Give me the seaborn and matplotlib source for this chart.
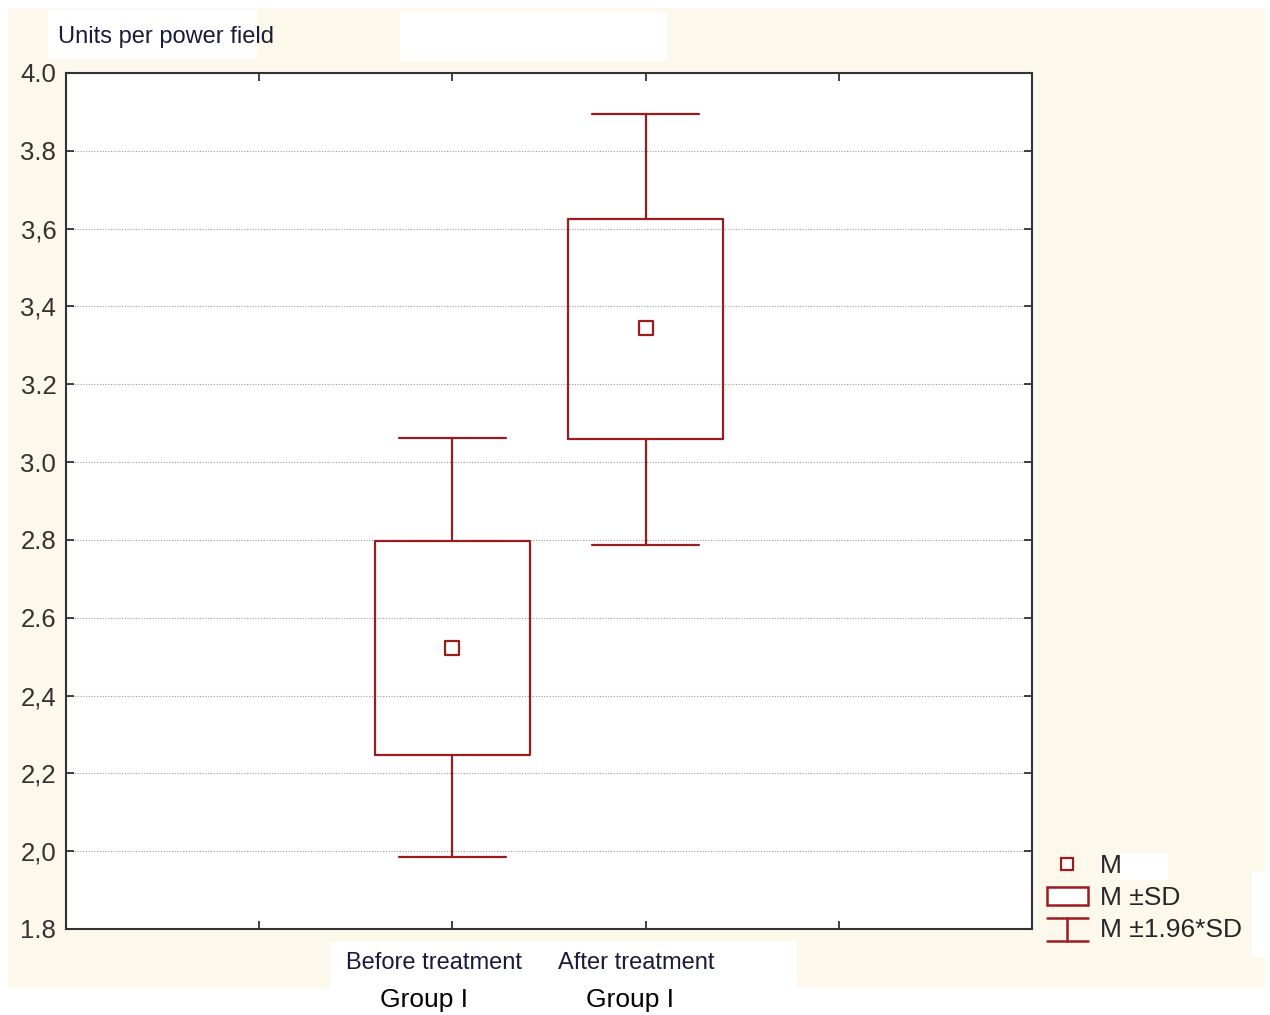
import matplotlib.patches as patches
import matplotlib.pyplot as plt
from matplotlib.legend_handler import HandlerBase
from matplotlib.lines import Line2D
import seaborn as sns

# values
groups = ["Before treatment", "After treatment"]
subgroup = "Group I"
means = [2.522, 3.344]
sd_low = [2.247, 3.059]
sd_high = [2.797, 3.625]
ci_low = [1.985, 2.787]
ci_high = [3.062, 3.895]
ytick_values = [1.8, 2.0, 2.2, 2.4, 2.6, 2.8, 3.0, 3.2, 3.4, 3.6, 3.8, 4.0]
ytick_labels = ["1.8", "2,0", "2,2", "2,4", "2.6", "2.8", "3.0", "3.2", "3,4", "3,6", "3.8", "4.0"]
legend_labels = ["M", "M ±SD", "M ±1.96*SD"]

RED = "#9a1c1f"
CREAM = "#fdf8ec"
positions = [2, 3]

sns.set_style("white")
plt.rcParams["font.family"] = ["Liberation Sans", "DejaVu Sans"]


class WhiskerHandler(HandlerBase):
    def create_artists(self, legend, orig, xd, yd, width, height, fontsize, trans):
        cx = xd + width / 2
        top = yd + height + 0.05 * height
        bot = yd - 0.2 * height
        arts = [
            Line2D([xd, xd + width], [top, top]),
            Line2D([xd, xd + width], [bot, bot]),
            Line2D([cx, cx], [bot, top]),
        ]
        for a in arts:
            a.set_color(RED)
            a.set_linewidth(1.8)
            a.set_transform(trans)
        return arts


fig = plt.figure(figsize=(12.7, 10.15), dpi=100, facecolor="white")
# cream panel and the white patches of the original
fig.add_artist(patches.Rectangle((8 / 1270, 27 / 1015), 1257 / 1270, 980 / 1015,
                                 transform=fig.transFigure, facecolor=CREAM, edgecolor="none", zorder=0))
for (x0, y0, x1, y1) in [(48, 10, 257, 58), (400, 12, 667, 61), (330, 942, 797, 988),
                         (1120, 853, 1168, 880), (1252, 872, 1265, 957)]:
    fig.add_artist(patches.Rectangle((x0 / 1270, 1 - y1 / 1015), (x1 - x0) / 1270, (y1 - y0) / 1015,
                                     transform=fig.transFigure, facecolor="white", edgecolor="none", zorder=0.5))

ax = fig.add_axes([66 / 1270, 1 - 929 / 1015, 966 / 1270, 856 / 1015])
ax.set_facecolor("white")

stats = [
    {"med": m, "q1": lo, "q3": hi, "whislo": wl, "whishi": wh, "fliers": []}
    for m, lo, hi, wl, wh in zip(means, sd_low, sd_high, ci_low, ci_high)
]
ax.bxp(
    stats,
    positions=positions,
    widths=0.8,
    capwidths=0.55,
    showfliers=False,
    boxprops=dict(color=RED, linewidth=1.6),
    whiskerprops=dict(color=RED, linewidth=1.6),
    capprops=dict(color=RED, linewidth=1.6),
    medianprops=dict(linewidth=0),
    manage_ticks=False,
    zorder=3,
)
sns.scatterplot(x=positions, y=means, marker="s", s=95, color="white",
                edgecolor=RED, linewidth=1.6, ax=ax, zorder=4)

ax.set_xlim(0, 5)
ax.set_ylim(1.8, 4.0)
ax.set_xticks([1, 2, 3, 4])
ax.set_xticklabels([])
ax.set_yticks(ytick_values)
ax.set_yticklabels(ytick_labels, fontsize=18.5, color="#333333")
ax.tick_params(axis="both", direction="in", length=6, width=1.2, color="#222222",
               top=True, right=True, left=True, bottom=True)
ax.tick_params(axis="y", pad=7)
ax.yaxis.grid(True, linestyle=(0, (1, 1.5)), color="#9a9a9a", linewidth=0.8)
ax.set_axisbelow(True)
for sp in ax.spines.values():
    sp.set_color("#333333")
    sp.set_linewidth(1.5)

fig.text(58 / 1270, 1 - 37 / 1015, "Units per power field", fontsize=17,
         color="#1a1a3a", va="center", ha="left")

label_x = [434, 636]
for g, px in zip(groups, label_x):
    fig.text(px / 1270, 1 - 963 / 1015, g, fontsize=17, color="#1a1a3a",
             ha="center", va="center")
for px in [424, 630]:
    fig.text(px / 1270, 1 - 1000 / 1015, subgroup, fontsize=19, color="black",
             ha="center", va="center")

handles = [
    Line2D([], [], marker="s", linestyle="none", markersize=9, markerfacecolor="white",
           markeredgecolor=RED, markeredgewidth=1.6),
    patches.Patch(facecolor="white", edgecolor=RED, linewidth=1.8),
    Line2D([], []),
]
fig.legend(handles, legend_labels, loc="lower left",
           bbox_to_anchor=(1047 / 1270, 1 - 942 / 1015), frameon=False,
           fontsize=19, handlelength=1.55, handletextpad=0.45, labelspacing=0.3,
           borderaxespad=0, borderpad=0,
           handler_map={handles[2]: WhiskerHandler()})

fig.savefig("out.png", dpi=100, facecolor=fig.get_facecolor())
